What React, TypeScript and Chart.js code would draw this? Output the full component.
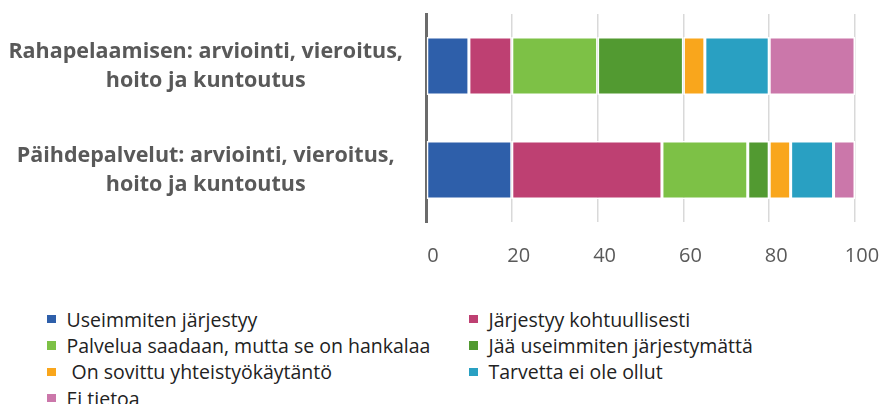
import React, { useEffect, useRef } from "react";
import { Chart, registerables } from "chart.js";

Chart.register(...registerables);

const categories: string[][] = [
  ["Rahapelaamisen: arviointi, vieroitus,", "hoito ja kuntoutus"],
  ["Päihdepalvelut: arviointi, vieroitus,", "hoito ja kuntoutus"],
];

const seriesNames: string[] = [
  "Useimmiten järjestyy",
  "Järjestyy kohtuullisesti",
  "Palvelua saadaan, mutta se on hankalaa",
  "Jää useimmiten järjestymättä",
  " On sovittu yhteistyökäytäntö",
  "Tarvetta ei ole ollut",
  "Ei tietoa",
];

const useimmitenJarjestyy = [10, 20];
const jarjestyyKohtuullisesti = [10, 35];
const palveluaHankalaa = [20, 20];
const jaaJarjestymatta = [20, 5];
const sovittuKaytanto = [5, 5];
const tarvettaEiOllut = [15, 10];
const eiTietoa = [20, 5];

const seriesValues = [
  useimmitenJarjestyy,
  jarjestyyKohtuullisesti,
  palveluaHankalaa,
  jaaJarjestymatta,
  sovittuKaytanto,
  tarvettaEiOllut,
  eiTietoa,
];

const seriesColors = [
  "#2E5FAA",
  "#BE4072",
  "#7DC146",
  "#529A31",
  "#F9A61C",
  "#29A0C2",
  "#CB77AA",
];

const xTicks = [0, 20, 40, 60, 80, 100];

const FONT = "'Open Sans', sans-serif";

export default function App() {
  const ref = useRef<HTMLCanvasElement | null>(null);

  useEffect(() => {
    if (!ref.current) return;
    const chart = new Chart(ref.current, {
      type: "bar",
      data: {
        labels: categories,
        datasets: seriesNames.map((name, i) => ({
          label: name,
          data: seriesValues[i],
          backgroundColor: seriesColors[i],
          borderColor: "#FFFFFF",
          borderWidth: 1.5,
          borderSkipped: false,
          barPercentage: 0.56,
          categoryPercentage: 1,
        })),
      },
      options: {
        indexAxis: "y",
        responsive: false,
        animation: false,
        layout: { padding: { top: 14, bottom: 0, left: 0, right: 28 } },
        plugins: {
          legend: { display: false },
          tooltip: { enabled: false },
        },
        scales: {
          x: {
            stacked: true,
            min: 0,
            max: 100,
            afterBuildTicks: (scale: any) => {
              scale.ticks = xTicks.map((v) => ({ value: v }));
            },
            afterFit: (scale: any) => {
              scale.paddingLeft = 0;
              scale.paddingRight = 0;
              scale.height = 56;
            },
            grid: {
              color: "#D9D9D9",
              lineWidth: 1.5,
              drawTicks: false,
            },
            border: { display: false },
            ticks: {
              padding: 22,
              labelOffset: 7,
              color: "#595959",
              font: { family: FONT, size: 20, weight: "normal" },
            },
          },
          y: {
            stacked: true,
            afterFit: (scale: any) => {
              scale.width = 426;
              scale.paddingTop = 0;
              scale.paddingBottom = 0;
            },
            grid: { display: false, drawTicks: false },
            border: { display: true, color: "#6B6B6B", width: 3 },
            ticks: {
              crossAlign: "center",
              padding: 23,
              color: "#595959",
              font: { family: FONT, size: 21.5, weight: "bold", lineHeight: 1.35 },
            },
          },
        },
      },
    });
    return () => chart.destroy();
  }, []);

  return (
    <div
      style={{
        position: "relative",
        width: 883,
        height: 404,
        overflow: "hidden",
        fontFamily: FONT,
      }}
    >
      <style>{"html, body { margin: 0; padding: 0; overflow: hidden; }"}</style>
      <canvas ref={ref} width={883} height={278} style={{ display: "block" }} />
      <div style={{ position: "absolute", left: 0, top: 307, width: 883 }}>
        {seriesNames.map((name, i) => (
          <div
            key={name}
            style={{
              position: "absolute",
              left: i % 2 === 0 ? 47 : 469,
              top: Math.floor(i / 2) * 26.4,
              height: 24,
              display: "flex",
              alignItems: "center",
              whiteSpace: "pre",
              fontSize: 19.5,
              letterSpacing: 0,
              color: "#222222",
            }}
          >
            <span
              style={{
                display: "inline-block",
                width: 8.5,
                height: 8.5,
                background: seriesColors[i],
                marginRight: 11,
              }}
            />
            {name}
          </div>
        ))}
      </div>
    </div>
  );
}
